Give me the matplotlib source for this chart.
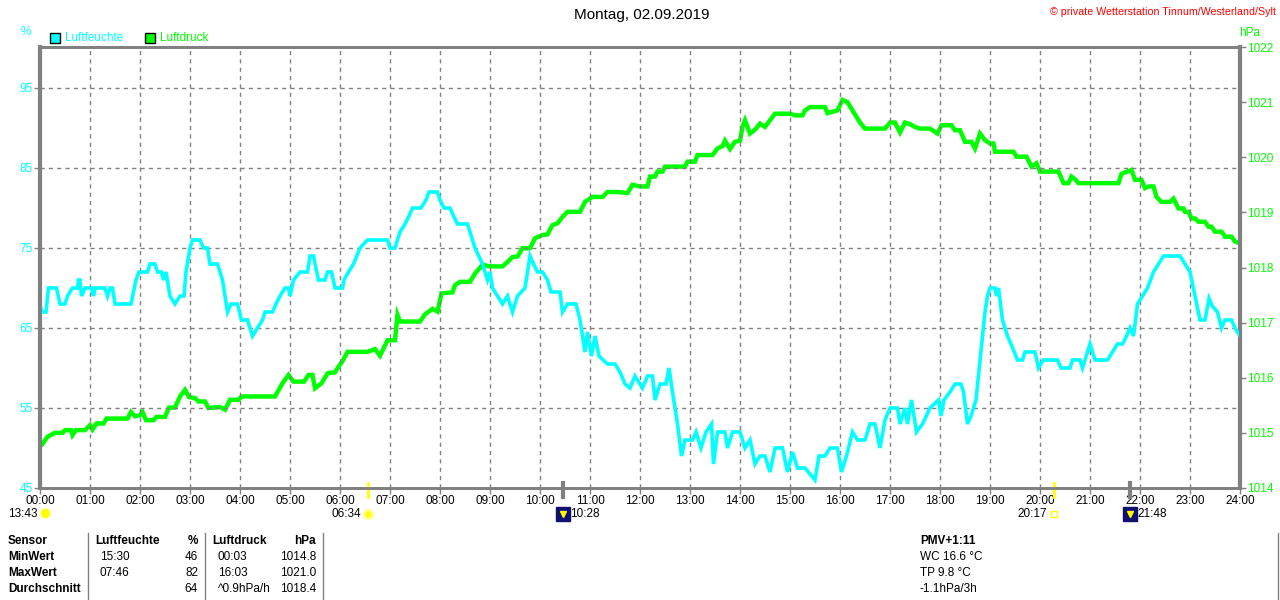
import numpy as np
import matplotlib
matplotlib.use("Agg")
import matplotlib.pyplot as plt
from matplotlib.patches import Rectangle
from matplotlib.lines import Line2D

plt.rcParams['font.family'] = ['Liberation Sans', 'DejaVu Sans']

# Luftfeuchte (%) as (hour, value)
hum = [(0.0,68),(0.03,67),(0.12,67),(0.17,70),(0.33,70),(0.4,68),(0.5,68),(0.55,69),(0.65,70),(0.75,70),
       (0.77,71),(0.8,71),(0.83,69),(0.9,70),(1.03,70),(1.07,69),(1.1,70),(1.3,70),(1.35,69),(1.4,70),
       (1.45,70),(1.5,68),(1.82,68),(1.92,71),(1.98,72),(2.15,72),(2.2,73),(2.3,73),(2.35,72),(2.43,72),
       (2.47,71),(2.52,72),(2.6,69),(2.7,68),(2.8,69),(2.88,69),(2.92,72),(3.0,75),(3.05,76),(3.2,76),
       (3.27,75),(3.35,75),(3.4,73),(3.55,73),(3.65,71),(3.75,67),(3.82,68),(3.95,68),(4.03,66),(4.15,66),
       (4.25,64),(4.35,65),(4.45,66),(4.5,67),(4.65,67),(4.72,68),(4.8,69),(4.9,70),(4.97,70),(5.0,69),
       (5.07,71),(5.2,72),(5.35,72),(5.4,74),(5.47,74),(5.5,73),(5.57,71),(5.7,71),(5.75,72),(5.83,72),
       (5.9,70),(6.05,70),(6.08,71),(6.17,72),(6.27,73),(6.4,75),(6.55,76),(6.95,76),(7.0,75),(7.1,75),
       (7.2,77),(7.3,78),(7.38,79),(7.45,80),(7.62,80),(7.72,81),(7.78,82),(7.95,82),(8.0,81),(8.08,80),
       (8.2,80),(8.27,79),(8.35,78),(8.55,78),(8.7,75),(8.85,73),(8.95,71),(9.0,72),(9.05,70),(9.15,69),
       (9.25,68),(9.35,69),(9.45,67),(9.55,69),(9.7,70),(9.8,74),(9.87,73),(9.95,72),(10.05,72),(10.15,71),
       (10.22,69.5),(10.4,69.5),(10.45,67),(10.55,68),(10.72,68),(10.8,66),(10.9,62),(10.95,64.5),(11.03,61.5),(11.1,64),
       (11.18,61.5),(11.35,60.5),(11.5,60.5),(11.6,59.5),(11.7,58),(11.8,57.5),(11.9,59),(12.05,57.5),(12.15,59),(12.25,59),
       (12.3,56),(12.4,58),(12.52,58),(12.58,60),(12.65,57),(12.75,53),(12.83,49),(12.9,51),(13.05,51),(13.12,52),
       (13.22,50),(13.32,52),(13.43,53),(13.47,48),(13.55,52),(13.7,52),(13.75,50),(13.85,52),(14.0,52),(14.1,50),
       (14.2,51),(14.3,48),(14.4,49),(14.5,49),(14.6,47),(14.7,50),(14.85,50),(14.95,47),(15.05,49.5),(15.15,47.5),
       (15.3,47.5),(15.5,46),(15.58,49),(15.7,49),(15.8,50),(15.95,50),(16.03,47),(16.13,49),(16.25,52),(16.35,51),
       (16.5,51),(16.6,53),(16.7,53),(16.8,50),(16.9,53.5),(17.0,55),(17.15,55),(17.2,53),(17.3,55),(17.35,53),
       (17.43,56),(17.53,52),(17.65,53),(17.8,55),(17.97,56),(18.02,54),(18.08,56),(18.2,57),(18.3,58),(18.42,58),
       (18.47,57),(18.55,53),(18.62,54),(18.72,56),(18.8,61),(18.85,64),(18.9,67),(18.95,69),(19.0,70),(19.1,70),
       (19.13,69),(19.17,70),(19.25,66),(19.35,64),(19.42,63),(19.55,61),(19.65,61),(19.7,62),(19.9,62),(19.97,60),
       (20.07,61),(20.35,61),(20.42,60),(20.6,60),(20.65,61),(20.8,61),(20.85,60),(20.9,61),(21.0,63),(21.1,61),
       (21.35,61),(21.45,62),(21.55,63),(21.65,63),(21.73,64),(21.8,65),(21.87,64),(21.95,68),(22.05,69),(22.15,70),
       (22.27,72),(22.37,73),(22.47,74),(22.8,74),(22.9,73),(23.0,72),(23.1,69),(23.2,66),(23.3,66),(23.38,68.7),
       (23.45,67.7),(23.55,67),(23.63,65),(23.7,66),(23.83,66),(23.9,65),(24.0,64)]

# Luftdruck (hPa) as (hour, value)
press = [(0.0,1014.85),(0.05,1014.8),(0.15,1014.93),(0.3,1015.0),(0.45,1015.0),(0.5,1015.05),(0.62,1015.05),
         (0.65,1014.96),(0.72,1015.05),(0.9,1015.05),(1.0,1015.14),(1.05,1015.06),(1.13,1015.17),(1.27,1015.17),
         (1.33,1015.26),(1.75,1015.26),(1.82,1015.38),(1.9,1015.3),(2.0,1015.32),(2.05,1015.38),(2.12,1015.23),
         (2.27,1015.23),(2.33,1015.29),(2.5,1015.29),(2.58,1015.46),(2.7,1015.46),(2.8,1015.66),(2.9,1015.78),
         (2.98,1015.65),(3.1,1015.63),(3.17,1015.57),(3.3,1015.57),(3.37,1015.45),(3.6,1015.47),(3.7,1015.42),
         (3.8,1015.6),(3.97,1015.6),(4.03,1015.66),(4.7,1015.66),(4.85,1015.9),(4.97,1016.05),(5.07,1015.93),
         (5.28,1015.93),(5.37,1016.05),(5.45,1016.05),(5.5,1015.81),(5.63,1015.9),(5.75,1016.08),(5.9,1016.1),
         (5.97,1016.2),(6.05,1016.3),(6.15,1016.47),(6.55,1016.47),(6.7,1016.52),(6.8,1016.4),(6.95,1016.68),
         (7.1,1016.68),(7.15,1017.14),(7.2,1017.02),(7.6,1017.02),(7.7,1017.15),(7.85,1017.25),(7.95,1017.2),
         (8.03,1017.53),(8.25,1017.55),(8.3,1017.68),(8.4,1017.74),(8.6,1017.74),(8.7,1017.89),(8.85,1018.05),
         (9.0,1018.02),(9.25,1018.02),(9.35,1018.1),(9.45,1018.19),(9.55,1018.2),(9.65,1018.35),(9.8,1018.35),
         (9.9,1018.53),(10.05,1018.59),(10.15,1018.6),(10.25,1018.77),(10.35,1018.8),(10.45,1018.92),(10.55,1019.01),
         (10.8,1019.01),(10.9,1019.19),(11.05,1019.28),(11.25,1019.28),(11.35,1019.37),(11.55,1019.37),(11.75,1019.35),
         (11.85,1019.5),(12.0,1019.47),(12.15,1019.47),(12.2,1019.65),(12.3,1019.65),(12.35,1019.74),(12.45,1019.74),
         (12.5,1019.83),(12.9,1019.83),(12.95,1019.92),(13.1,1019.92),(13.15,1020.04),(13.45,1020.04),(13.55,1020.16),
         (13.65,1020.2),(13.7,1020.3),(13.8,1020.15),(13.9,1020.28),(14.0,1020.3),(14.05,1020.55),(14.1,1020.67),
         (14.2,1020.43),(14.3,1020.5),(14.4,1020.61),(14.5,1020.55),(14.6,1020.67),(14.7,1020.79),(15.0,1020.79),
         (15.1,1020.76),(15.25,1020.76),(15.3,1020.85),(15.4,1020.91),(15.7,1020.91),(15.75,1020.8),(15.95,1020.85),
         (16.05,1021.04),(16.15,1021.0),(16.25,1020.85),(16.4,1020.63),(16.5,1020.52),(16.9,1020.52),(17.0,1020.63),
         (17.1,1020.63),(17.2,1020.45),(17.3,1020.63),(17.4,1020.6),(17.5,1020.55),(17.6,1020.52),(17.8,1020.52),
         (17.95,1020.43),(18.03,1020.58),(18.23,1020.58),(18.3,1020.49),(18.4,1020.49),(18.5,1020.28),(18.63,1020.28),
         (18.7,1020.16),(18.8,1020.43),(18.9,1020.31),(19.0,1020.25),(19.07,1020.25),(19.1,1020.1),(19.47,1020.1),
         (19.53,1020.01),(19.73,1020.01),(19.83,1019.83),(19.93,1019.89),(20.0,1019.74),(20.37,1019.74),(20.47,1019.53),
         (20.57,1019.53),(20.63,1019.65),(20.7,1019.6),(20.77,1019.53),(21.57,1019.53),(21.63,1019.7),(21.83,1019.77),
         (21.9,1019.59),(22.03,1019.59),(22.1,1019.44),(22.17,1019.47),(22.27,1019.47),(22.33,1019.28),(22.43,1019.19),
         (22.6,1019.19),(22.67,1019.25),(22.77,1019.07),(22.87,1019.07),(22.9,1019.01),(22.97,1019.01),(23.03,1018.89),
         (23.1,1018.89),(23.17,1018.83),(23.3,1018.83),(23.37,1018.74),(23.43,1018.74),(23.5,1018.65),(23.63,1018.65),
         (23.7,1018.56),(23.83,1018.56),(23.9,1018.47),(24.0,1018.44)]

hum_ticks = [45, 55, 65, 75, 85, 95]
press_ticks = list(range(1014, 1023))
hour_labels = ["%02d:00" % h for h in range(25)]

# sun / moon events: hour, label, kind
ev_hours = [6 + 34/60, 10 + 28/60, 20 + 17/60, 21 + 48/60]
ev_labels = ["06:34", "10:28", "20:17", "21:48"]
ev_kinds = ["sun", "moon", "sunset", "moon"]

rows = ["MinWert", "MaxWert", "Durchschnitt"]
hum_time = ["15:30", "07:46", ""]
hum_val = ["46", "82", "64"]
press_time = ["00:03", "16:03", "^0.9hPa/h"]
press_val = ["1014.8", "1021.0", "1018.4"]
extra = ["WC 16.6 °C", "TP 9.8 °C", "-1.1hPa/3h"]

CYAN = "#00ffff"
GREEN = "#00ff00"
GRAY = "#808080"

fig = plt.figure(figsize=(12.8, 6), dpi=100)
W, H = 1280, 600
def px(x, y):
    return x / W, 1 - y / H

ax = fig.add_axes([40 / W, 112 / H, 1200 / W, 441 / H])
ax2 = ax.twinx()
ax.set_zorder(ax2.get_zorder() + 1)
ax.patch.set_visible(False)

t, v = zip(*press)
ax2.plot(t, v, color=GREEN, lw=3.2, solid_joinstyle='miter')
t, v = zip(*hum)
ax.plot(t, v, color=CYAN, lw=2.6, solid_joinstyle='miter')

ax.set_xlim(0, 24)
ax.set_ylim(45, 100.125)
ax2.set_ylim(1014, 1022)

ax.set_xticks(range(25))
ax.set_xticklabels(hour_labels, fontsize=8.5)
ax.set_yticks(hum_ticks)
ax.set_yticklabels([str(h) for h in hum_ticks], fontsize=8.5, color=CYAN)
ax2.set_yticks(press_ticks)
ax2.set_yticklabels([str(p) for p in press_ticks], fontsize=8.5, color=GREEN)

ax.tick_params(axis='both', length=4, width=1, color=GRAY, pad=1)
ax2.tick_params(axis='y', length=4, width=1, color=GRAY, pad=1)

ax.grid(True, color=GRAY, linestyle=(0, (3, 3)), linewidth=1)
for a in (ax, ax2):
    for s in a.spines.values():
        s.set_color(GRAY)
        s.set_linewidth(2)
ax2.spines['left'].set_linewidth(3)
ax2.spines['right'].set_linewidth(3)

# event markers under the time axis
tr = ax.get_xaxis_transform()
lab_y = -26 / 441
for h, lab, kind in zip(ev_hours, ev_labels, ev_kinds):
    if kind == "moon":
        ax.plot([h, h], [0.012, -0.02], color=GRAY, lw=3, transform=tr, clip_on=False)
        ax.plot([h], [lab_y], marker='s', ms=10, color='#101070', transform=tr, clip_on=False)
        ax.plot([h], [lab_y], marker='v', ms=4, color='yellow', transform=tr, clip_on=False)
        ax.annotate(lab, (h, lab_y), xycoords=tr, xytext=(7, 0), textcoords='offset pixels',
                    ha='left', va='center', fontsize=8.5, annotation_clip=False)
    else:
        ax.plot([h, h], [0.012, -0.02], color='yellow', lw=2, transform=tr, clip_on=False)
        if kind == "sun":
            ax.plot([h], [lab_y], marker='o', ms=6, color='yellow', mec='#ffff80', mew=2,
                    transform=tr, clip_on=False)
        else:
            ax.plot([h], [lab_y], marker='s', ms=5, mfc='none', mec='yellow', mew=1,
                    transform=tr, clip_on=False)
        ax.annotate(lab, (h, lab_y), xycoords=tr, xytext=(-7, 0), textcoords='offset pixels',
                    ha='right', va='center', fontsize=8.5, annotation_clip=False)

ax.annotate("13:43", (0, lab_y), xycoords=tr, xytext=(-2, 0), textcoords='offset pixels',
            ha='right', va='center', fontsize=8.5, annotation_clip=False)
ax.plot([0.09], [lab_y + 0.003], marker='o', ms=6, color='yellow', transform=tr, clip_on=False)

# header texts
fig.text(*px(642, 15), "Montag, 02.09.2019", ha='center', va='center', fontsize=11)
fig.text(*px(1276, 12), "© private Wetterstation Tinnum/Westerland/Sylt", ha='right', va='center',
         fontsize=7.7, color='red')
fig.text(*px(26, 32), "%", ha='center', va='center', fontsize=8.5, color=CYAN)
fig.text(*px(1250, 33), "hPa", ha='center', va='center', fontsize=8.5, color=GREEN)
for x0, col, name in [(50, CYAN, "Luftfeuchte"), (145, GREEN, "Luftdruck")]:
    fig.patches.append(Rectangle(px(x0, 43), 10 / W, 10 / H, facecolor=col, edgecolor='black',
                                 lw=1, transform=fig.transFigure))
    fig.text(*px(x0 + 15, 38), name, ha='left', va='center', fontsize=8.5, color=col)

# table below
for x in (88, 205, 323, 1278):
    fig.add_artist(Line2D([x / W, x / W], [1 - 533 / H, 0], color=GRAY, lw=1))
fig.text(*px(8, 541), "Sensor", ha='left', va='center', fontsize=8.5, weight='bold')
fig.text(*px(95, 541), "Luftfeuchte", ha='left', va='center', fontsize=8.5, weight='bold')
fig.text(*px(198, 541), "%", ha='right', va='center', fontsize=8.5, weight='bold')
fig.text(*px(212, 541), "Luftdruck", ha='left', va='center', fontsize=8.5, weight='bold')
fig.text(*px(316, 541), "hPa", ha='right', va='center', fontsize=8.5, weight='bold')
fig.text(*px(920, 541), "PMV+1:11", ha='left', va='center', fontsize=8.5, weight='bold')
for i, r in enumerate(rows):
    y = 557 + 16 * i
    fig.text(*px(8, y), r, ha='left', va='center', fontsize=8.5, weight='bold')
    fig.text(*px(100, y), hum_time[i], ha='left', va='center', fontsize=8.5)
    fig.text(*px(198, y), hum_val[i], ha='right', va='center', fontsize=8.5)
    fig.text(*px(218, y), press_time[i], ha='left', va='center', fontsize=8.5)
    fig.text(*px(316, y), press_val[i], ha='right', va='center', fontsize=8.5)
    fig.text(*px(920, y), extra[i], ha='left', va='center', fontsize=8.5)

fig.savefig("out.png", dpi=100)
